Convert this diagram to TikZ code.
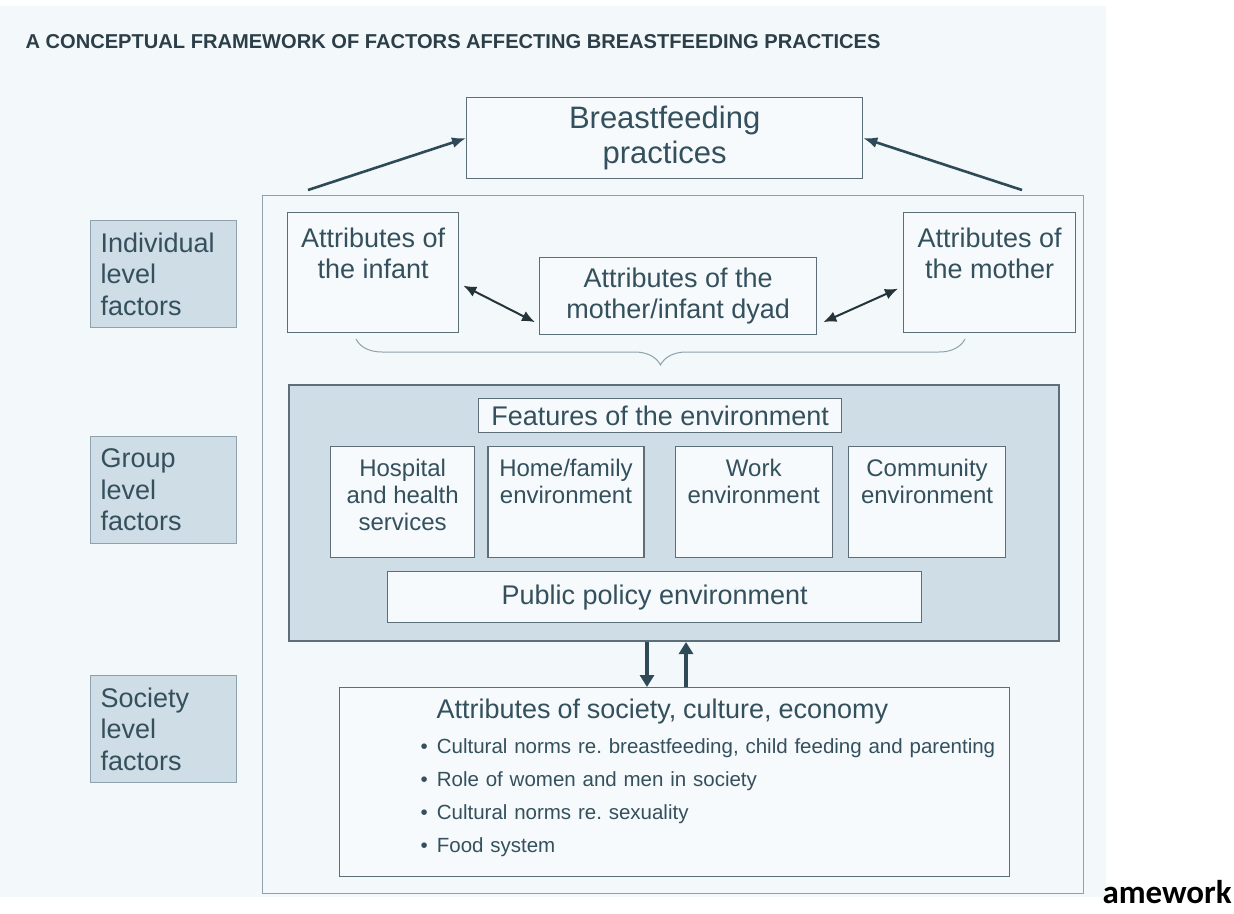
\documentclass[tikz,border=0pt]{standalone}
\usepackage{fontspec}
\setmainfont{Liberation Sans}
\newfontfamily\tailfont{Carlito}
\usetikzlibrary{arrows.meta,positioning,calc,decorations.pathreplacing}

\definecolor{paper}{HTML}{F3F8FA}
\definecolor{cellbg}{HTML}{F6FAFC}
\definecolor{shade}{HTML}{CFDDE6}
\definecolor{ink}{HTML}{34505D}
\definecolor{heading}{HTML}{2C3E47}
\definecolor{rule}{HTML}{5C6E77}
\definecolor{softrule}{HTML}{8DA2AC}
\definecolor{dark}{HTML}{25343B}
\definecolor{steel}{HTML}{2F4A57}

\begin{document}
\begin{tikzpicture}[
    x=1pt, y=-1pt,
    every node/.style={text=ink},
    cell/.style={draw=rule, fill=cellbg, line width=1.3pt, rectangle, anchor=north west, align=center, inner xsep=0pt},
    levelbox/.style={draw=softrule, fill=shade, line width=1.3pt, rectangle, anchor=north west, align=left,
        text width=126pt, inner xsep=10pt, minimum height=107pt, font=\fontsize{27}{31.5}\selectfont},
    envcell/.style={cell, minimum width=#1, inner ysep=0pt, font=\fontsize{24}{27}\selectfont},
    link/.style={draw=dark, line width=2pt, {Latex[length=13pt,width=11pt]}-{Latex[length=13pt,width=11pt]}},
    feed/.style={draw=steel, line width=2.6pt, -{Latex[length=14pt,width=11pt]}},
    flow/.style={draw=steel, line width=4pt, -{Triangle[length=12pt,width=14pt]}}
]

% paper and page size
\fill[paper] (0,6) rectangle (1106,897);
\useasboundingbox (0,0) rectangle (1234,913);

\node[anchor=west, text=heading, font=\bfseries\fontsize{20.1}{24}\selectfont] (title) at (22,42)
    {A CONCEPTUAL FRAMEWORK OF FACTORS AFFECTING BREASTFEEDING PRACTICES};

% outcome and the big frame
\node[cell, draw=softrule, fill=paper, minimum width=821pt, minimum height=698pt] (frame) at (262,195) {};
\node[cell, minimum width=396pt, minimum height=81pt, font=\fontsize{31}{35}\selectfont] (bf) at (466,97)
    {Breastfeeding\\practices};

% individual level (baseline of a node = its last line)
\node[cell, minimum width=171pt, inner ysep=0pt, text height=66pt, text depth=54pt,
    font=\fontsize{27}{31}\selectfont] (infant) at (287,212) {Attributes of\\the infant};
\node[cell, minimum width=172pt, inner ysep=0pt, text height=66pt, text depth=54pt,
    font=\fontsize{27}{31}\selectfont] (mother) at (903,212) {Attributes of\\the mother};
\node[cell, minimum width=277pt, minimum height=77pt, font=\fontsize{27}{31}\selectfont] (dyad) at (539,257)
    {Attributes of the\\mother/infant dyad};

\coordinate (bracel) at (356,339);
\coordinate (bracer) at (965,339);
\draw[softrule, line width=1pt, decorate, decoration={brace, mirror, amplitude=26pt}] (bracel) -- (bracer);

% group level
\node[cell, fill=shade, line width=2pt, minimum width=770pt, minimum height=256pt] (env) at (288,384) {};
\node[cell, minimum width=363pt, minimum height=34pt, font=\fontsize{27}{31}\selectfont] (feat) at (478,398)
    {Features of the environment};
\node[envcell=144pt, text height=84pt, text depth=27pt] (hosp) at (330,446) {Hospital\\and health\\services};
\node[envcell=156pt, text height=57pt, text depth=54pt, right=12pt of hosp] (home) {Home/family\\environment};
\node[envcell=157pt, text height=57pt, text depth=54pt, right=30pt of home] (work) {Work\\environment};
\node[envcell=157pt, text height=57pt, text depth=54pt, right=15pt of work] (comm) {Community\\environment};
\node[cell, minimum width=534pt, minimum height=51pt, font=\fontsize{27}{31}\selectfont] (policy) at (387,571)
    {Public policy environment};

% society level (text width: baseline = first line)
\node[cell, text width=670pt, align=left, inner ysep=0pt, text height=31pt, text depth=158pt,
    font=\fontsize{20.5}{33}\selectfont] (soc) at (339,687) {%
    \hspace*{97pt}{\fontsize{27}{33}\selectfont Attributes of society, culture, economy}\\[2pt]
    \hspace*{81pt}\textbullet\hspace{9pt}Cultural norms re.\ breastfeeding, child feeding and parenting\\
    \hspace*{81pt}\textbullet\hspace{9pt}Role of women and men in society\\
    \hspace*{81pt}\textbullet\hspace{9pt}Cultural norms re.\ sexuality\\
    \hspace*{81pt}\textbullet\hspace{9pt}Food system};

% level labels
\node[levelbox] (indlvl) at (90,220) {Individual\\level\\factors};
\node[levelbox] (grplvl) at (90,436) {Group\\level\\factors};
\node[levelbox] (soclvl) at (90,675) {Society\\level\\factors};

\node[anchor=base west, text=black, font=\tailfont\bfseries\fontsize{33}{38}\selectfont] (tail) at (1099,903) {amework};

% arrows
\coordinate (lfoot) at (308,190);
\coordinate (rfoot) at (1022,190);
\draw[feed] (lfoot) -- (bf.west);
\draw[feed] (rfoot) -- (bf.east);
\draw[link] ($(infant.east)+(4,13)$) -- ($(dyad.west)+(-4,26)$);
\draw[link] ($(dyad.east)+(6,26)$) -- ($(mother.west)+(-5,16)$);
\coordinate (dn) at ($(env.south)+(-27,0)$);
\coordinate (up) at ($(env.south)+(12,0)$);
\draw[flow] (dn) -- (dn |- soc.north);
\draw[flow] (up |- soc.north) -- (up);

\end{tikzpicture}
\end{document}
